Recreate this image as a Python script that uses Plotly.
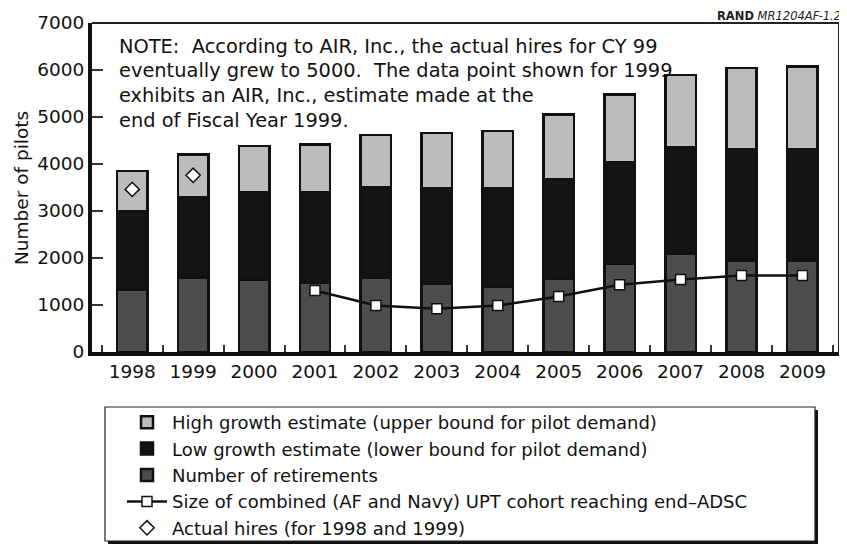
import plotly.graph_objects as go

years = ["1998", "1999", "2000", "2001", "2002", "2003", "2004", "2005", "2006", "2007", "2008", "2009"]
retirements = [1330, 1580, 1540, 1480, 1580, 1450, 1380, 1550, 1870, 2100, 1950, 1950]
low_growth = [3000, 3300, 3400, 3400, 3500, 3490, 3490, 3680, 4040, 4350, 4320, 4320]
high_growth = [3850, 4200, 4380, 4410, 4620, 4660, 4700, 5050, 5480, 5890, 6040, 6070]
upt_years = ["2001", "2002", "2003", "2004", "2005", "2006", "2007", "2008", "2009"]
upt_cohort = [1310, 990, 920, 990, 1180, 1430, 1540, 1630, 1630]
hires_years = ["1998", "1999"]
actual_hires = [3460, 3760]
note_lines = [
    "NOTE:  According to AIR, Inc., the actual hires for CY 99",
    "eventually grew to 5000.  The data point shown for 1999",
    "exhibits an AIR, Inc., estimate made at the",
    "end of Fiscal Year 1999.",
]

low_seg = [l - r for l, r in zip(low_growth, retirements)]
high_seg = [h - l for h, l in zip(high_growth, low_growth)]

FONT = "DejaVu Sans, Liberation Sans, sans-serif"
OFF = 8  # page body margin: figure pixel = page pixel - OFF
W, H = 839, 539
L, R, T, B = 84, 8, 15, 195
PW, PH = W - L - R, H - T - B

def px(x):  # page x -> paper
    return (x - OFF - L) / PW

def py(y):  # page y -> paper
    return (H - B - (y - OFF)) / PH

fig = go.Figure()
outline = dict(color="#111111", width=2.5)
fig.add_trace(go.Bar(x=years, y=retirements, name="Number of retirements",
                     marker=dict(color="#4d4d4d", line=outline), width=0.5, legendrank=3))
fig.add_trace(go.Bar(x=years, y=low_seg, name="Low growth estimate (lower bound for pilot demand)",
                     marker=dict(color="#141414", line=outline), width=0.5, legendrank=2))
fig.add_trace(go.Bar(x=years, y=high_seg, name="High growth estimate (upper bound for pilot demand)",
                     marker=dict(color="#bcbcbc", line=outline), width=0.5, legendrank=1))
fig.add_trace(go.Scatter(x=upt_years, y=upt_cohort, mode="lines+markers",
                         name="Size of combined (AF and Navy) UPT cohort reaching end\u2013ADSC",
                         line=dict(color="#111111", width=2.5),
                         marker=dict(symbol="square", size=10, color="white",
                                     line=dict(color="#111111", width=1.5)),
                         legendrank=4))
fig.add_trace(go.Scatter(x=hires_years, y=actual_hires, mode="markers",
                         name="Actual hires (for 1998 and 1999)",
                         marker=dict(symbol="diamond", size=11, color="white",
                                     line=dict(color="#111111", width=1.5)),
                         legendrank=5))

shapes = [
    dict(type="line", xref="paper", yref="paper", x0=0, x1=1, y0=1, y1=1,
         line=dict(color="#222222", width=2)),
    dict(type="line", xref="paper", yref="paper", x0=1, x1=1, y0=0, y1=1,
         line=dict(color="#222222", width=2)),
    dict(type="rect", xref="paper", yref="paper", x0=px(108), x1=px(818), y0=py(544), y1=py(410),
         fillcolor="#111111", line=dict(width=0), layer="below"),
    dict(type="rect", xref="paper", yref="paper", x0=px(105), x1=px(815), y0=py(541), y1=py(407),
         fillcolor="white", line=dict(color="#222222", width=1.2), layer="below"),
]

annotations = []
for i, line in enumerate(note_lines):
    annotations.append(dict(text=line, xref="paper", yref="paper", x=px(117), y=py(46 + 24.7 * i),
                            xanchor="left", yanchor="middle", align="left", showarrow=False,
                            font=dict(family=FONT, size=19.4, color="#111111")))
annotations.append(dict(text="<b>RAND</b> <i>MR1204AF-1.2</i>", xref="paper", yref="paper",
                        x=px(842), y=py(8), xanchor="right", yanchor="top", showarrow=False,
                        borderpad=0, font=dict(family=FONT, size=11.5, color="#222222")))
annotations.append(dict(text="Number of pilots", xref="paper", yref="paper",
                        x=px(21), y=py(188), xanchor="center", yanchor="middle",
                        textangle=-90, showarrow=False, borderpad=0,
                        font=dict(family=FONT, size=18.5, color="#111111")))

fig.update_layout(
    width=W, height=H,
    margin=dict(l=L, r=R, t=T, b=B, pad=0, autoexpand=False),
    paper_bgcolor="white", plot_bgcolor="white",
    barmode="stack", bargap=0.5,
    font=dict(family=FONT, size=19, color="#111111"),
    showlegend=True,
    legend=dict(xref="container", yref="container", x=(164 - 50) / W, y=1 - 396 / H,
                xanchor="left", yanchor="top",
                bgcolor="rgba(0,0,0,0)", borderwidth=0,
                font=dict(family=FONT, size=18, color="#111111"),
                traceorder="normal", tracegroupgap=0, itemwidth=40),
    shapes=shapes, annotations=annotations,
    xaxis=dict(type="category", range=[-0.66, 11.6], showline=True, linecolor="#111111",
               linewidth=4, ticks="inside", tickson="boundaries", ticklen=7, tickwidth=1.5,
               tickcolor="#333333", showgrid=False, zeroline=False,
               tickfont=dict(family=FONT, size=18.5, color="#111111")),
    yaxis=dict(range=[0, 7000], tickvals=[0, 1000, 2000, 3000, 4000, 5000, 6000, 7000],
               showline=True, linecolor="#111111", linewidth=4, ticks="inside",
               ticklen=11, tickwidth=2, tickcolor="#333333", showgrid=False, zeroline=False,
               ticksuffix="\u00a0",
               tickfont=dict(family=FONT, size=18.5, color="#111111")),
)

fig.write_html("out.html")
